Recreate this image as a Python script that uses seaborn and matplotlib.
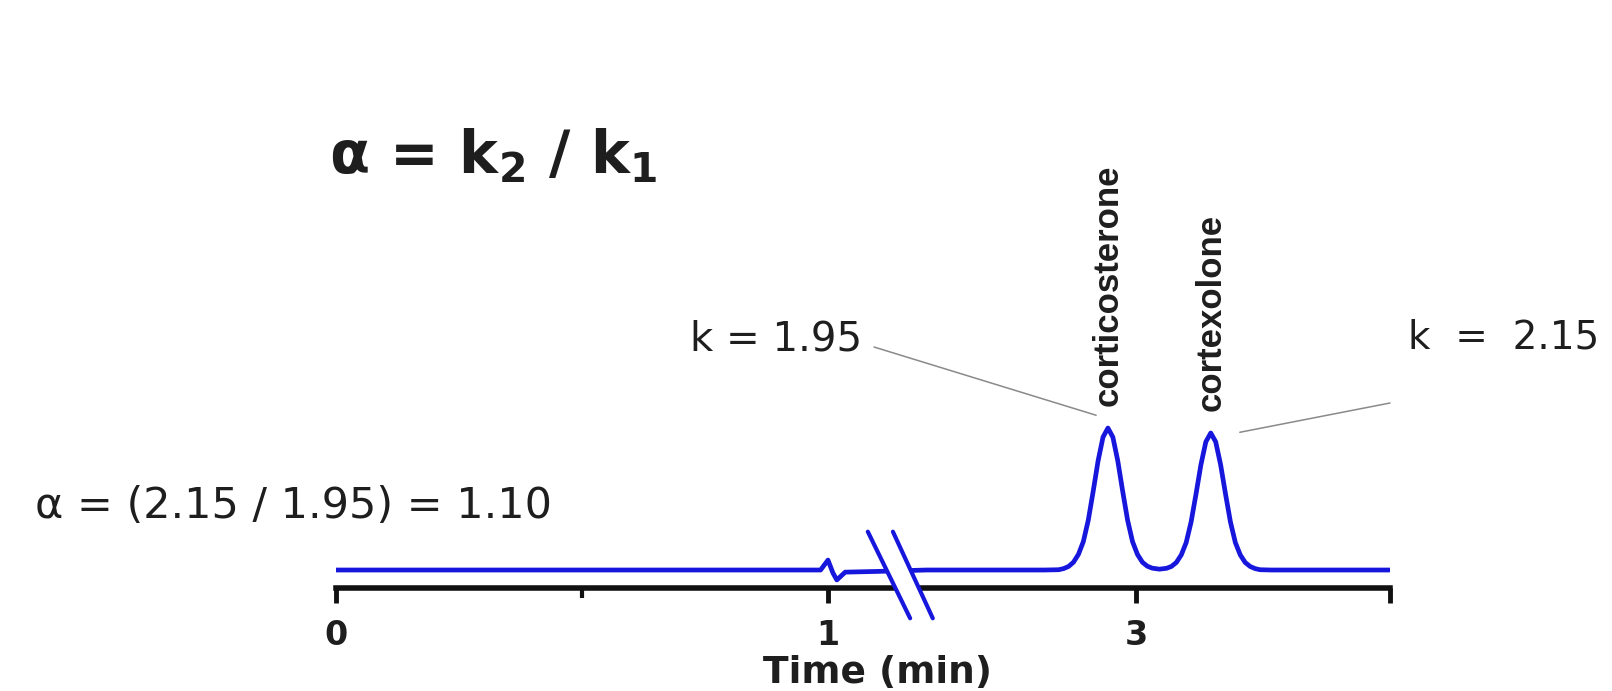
import numpy as np
import pandas as pd
import matplotlib
matplotlib.use("Agg")
import matplotlib.pyplot as plt
from matplotlib.patches import Polygon
import seaborn as sns

# trace (x = position along the broken time axis, y = detector signal)
trace_x = [0.0, 0.5, 0.985, 1.0, 1.01, 1.018, 1.035, 1.10, 1.20, 1.44,
           1.469, 1.479, 1.489, 1.499, 1.509, 1.519, 1.529, 1.539, 1.549, 1.559,
           1.569, 1.579, 1.589, 1.599, 1.609, 1.619, 1.629, 1.639, 1.649, 1.659,
           1.6735, 1.688, 1.698, 1.708, 1.718, 1.728, 1.738, 1.748, 1.758, 1.768,
           1.778, 1.788, 1.798, 1.808, 1.818, 1.828, 1.838, 1.848, 1.858, 1.868,
           1.878, 1.90, 2.142]
trace_y = [0.0, 0.0, 0.0, 0.07, -0.02, -0.07, -0.015, -0.01, 0.0, 0.0,
           0.002, 0.01, 0.025, 0.055, 0.11, 0.20, 0.35, 0.554, 0.769, 0.936,
           1.0, 0.936, 0.769, 0.554, 0.35, 0.20, 0.11, 0.055, 0.027, 0.013,
           0.006, 0.012, 0.025, 0.053, 0.106, 0.193, 0.338, 0.535, 0.742, 0.903,
           0.965, 0.903, 0.742, 0.535, 0.338, 0.193, 0.106, 0.053, 0.025, 0.01,
           0.002, 0.0, 0.0]

tick_pos = [0, 1, 1.626, 2.142]
tick_lab = ["0", "1", "3", ""]
minor_pos = [0.5]

peak_names = ["corticosterone", "cortexolone"]
peak_x = [1.569, 1.778]
peak_k = [1.95, 2.15]

sns.set_theme(style="white")
plt.rcParams["font.family"] = ["DejaVu Sans"]
plt.rcParams["mathtext.default"] = "bf"

txt = "#1e1e1e"
blue = "#1616dc"

fig = plt.figure(figsize=(16.12, 6.91), dpi=100)
ax = fig.add_axes([0.2084, 0.149, 0.6538, 0.2932])

df = pd.DataFrame({"x": trace_x, "y": trace_y})
sns.lineplot(data=df, x="x", y="y", ax=ax, color=blue, lw=3.4, sort=False, zorder=4)

ax.set_xlim(0, 2.142)
ax.set_ylim(-0.127, 1.3)
sns.despine(ax=ax, left=True)
ax.spines["bottom"].set_color("#111111")
ax.spines["bottom"].set_linewidth(4)
ax.set_yticks([])
ax.set_ylabel("")
ax.set_xticks(tick_pos)
ax.set_xticks(minor_pos, minor=True)
ax.set_xticklabels(tick_lab, fontsize=24, fontweight="bold", color=txt)
ax.tick_params(axis="x", which="major", direction="out", length=11, width=3.5,
               color="#111111", pad=11, bottom=True)
ax.tick_params(axis="x", which="minor", direction="out", length=7, width=3,
               color="#111111", bottom=True)
ax.set_xlabel("Time (min)", fontsize=27, fontweight="bold", color=txt)
ax.xaxis.set_label_coords(0.514, -0.42)
ax.xaxis.label.set_va("center")

# axis break
gap = Polygon([(1.085, 0.27), (1.132, 0.27), (1.213, -0.34), (1.167, -0.34)],
              closed=True, facecolor="white", edgecolor="none", zorder=6, clip_on=False)
ax.add_patch(gap)
ax.plot([1.081, 1.167], [0.27, -0.34], color=blue, lw=3, zorder=7, clip_on=False)
ax.plot([1.132, 1.213], [0.27, -0.34], color=blue, lw=3, zorder=7, clip_on=False)

# peak labels
for name, px, yb in zip(peak_names, peak_x, [0.4125, 0.405]):
    fig.text((336 + px * 492) / 1612, yb, name, rotation=90, ha="center", va="bottom",
             fontsize=25, fontweight="bold", color=txt, family="Liberation Sans")

# k annotations with leader lines
fig.text(0.4814, 0.508, f"k = {peak_k[0]:.2f}", ha="center", va="center", fontsize=29, color=txt)
fig.text(0.9327, 0.5123, f"k  =  {peak_k[1]:.2f}", ha="center", va="center", fontsize=28, color=txt)
line_kw = dict(arrowstyle="-", color="#8a8a8a", lw=1.1, shrinkA=0, shrinkB=0)
ax.annotate("", xy=(1.545, 1.09), xycoords="data", xytext=(874 / 1612, 1 - 347 / 691),
            textcoords="figure fraction", arrowprops=line_kw)
ax.annotate("", xy=(1.837, 0.97), xycoords="data", xytext=(1390 / 1612, 1 - 403 / 691),
            textcoords="figure fraction", arrowprops=line_kw)

alpha_val = peak_k[1] / peak_k[0]
fig.text(0.1818, 0.2677, f"α = ({peak_k[1]:.2f} / {peak_k[0]:.2f}) = {alpha_val:.2f}",
         ha="center", va="center", fontsize=31, color=txt)
fig.text(0.2041, 0.7496, r"α = k$_2$ / k$_1$", ha="left", va="baseline",
         fontsize=42, fontweight="bold", color=txt)

fig.savefig("out.png", dpi=100, facecolor="white")
